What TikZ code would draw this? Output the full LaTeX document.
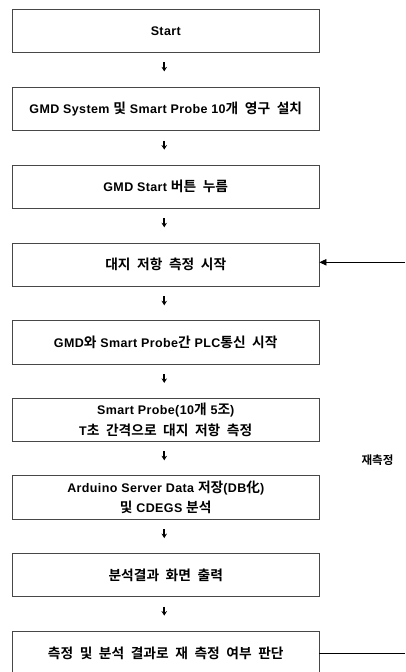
\documentclass[tikz,border=0pt]{standalone}
\usepackage{fontspec}
\setmainfont{Liberation Sans}[LetterSpace=3]
\newfontfamily\kr{Noto Sans CJK KR}[BoldFont={* Bold},Scale=1.1,WordSpace=2.1]
\newcommand\hk[1]{{\kr #1}}
\usetikzlibrary{arrows.meta,calc}
\begin{document}
\begin{tikzpicture}[x=1pt,y=-1pt,
  stepbox/.style={draw=black!72,line width=0.9pt,minimum width=306.5pt,minimum height=43.3pt,
    inner sep=0pt,align=center,font=\fontsize{12.5}{20.5}\selectfont\bfseries},
  downarrow/.style={line width=1.6pt,-{Stealth[length=4.5pt,width=5.5pt]}},
  loopline/.style={line width=0.8pt},
  lbl/.style={font=\fontsize{10.5}{14}\selectfont\bfseries,inner sep=0pt}]
\useasboundingbox (0,0) rectangle (405,672);
\clip (0,0) rectangle (405,672);
% process boxes
\node[stepbox] (b1) at (165.75,30.8) {Start};
\node[stepbox] (b2) at (165.75,109) {GMD System \hk{및} Smart Probe 10\hk{개 영구 설치}};
\node[stepbox] (b3) at (165.75,186.7) {GMD Start \hk{버튼 누름}};
\node[stepbox] (b4) at (165.75,264.7) {\hk{대지 저항 측정 시작}};
\node[stepbox] (b5) at (165.75,342.3) {GMD\hk{와} Smart Probe\hk{간} PLC\hk{통신 시작}};
\node[stepbox] (b6) at (165.75,419.7) {Smart Probe(10\hk{개} 5\hk{조})\\T\hk{초 간격으로 대지 저항 측정}};
\node[stepbox] (b7) at (165.75,497.5) {Arduino Server Data \hk{저장}(DB\hk{化})\\\hk{및} CDEGS \hk{분석}};
\node[stepbox] (b8) at (165.75,575) {\hk{분석결과 화면 출력}};
\node[stepbox] (b9) at (165.75,653) {\hk{측정 및 분석 결과로 재 측정 여부 판단}};
% short down arrows between the steps
\foreach \a in {1,...,8}{
  \draw[downarrow] ($(b\a.south)+(-1.5,9.5)$) -- ++(0,9);
}
% re-measure loop
\coordinate (rtop) at (405,262.3);
\coordinate (rbot) at (405,653.7);
\draw[loopline] (b9.east |- rbot) -- (rbot);
\draw[loopline,-{Stealth[length=7pt,width=6.5pt,inset=0pt]}] (rtop) -- (b4.east |- rtop);
\node[lbl] (rlabel) at (377.5,460) {\hk{재측정}};
\end{tikzpicture}
\end{document}
